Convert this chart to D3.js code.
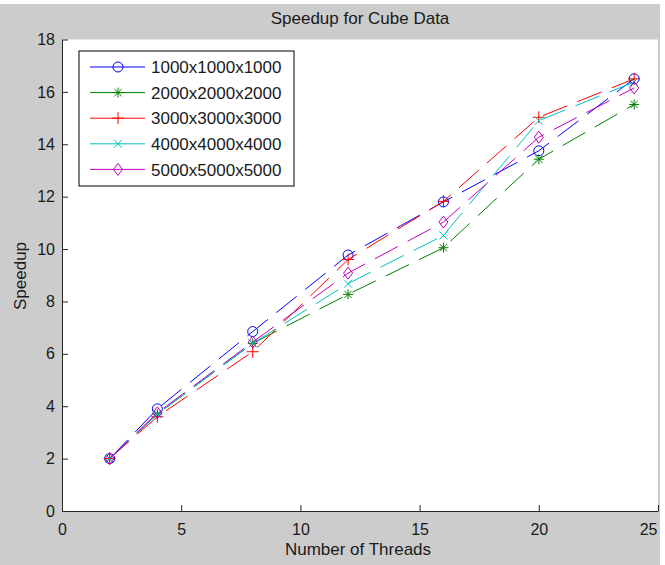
<!DOCTYPE html>
<html>
<head>
<meta charset="utf-8">
<script src="https://cdn.jsdelivr.net/npm/d3@7"></script>
<style>
body { margin: 0; background: #fff; }
text { font-family: "Liberation Sans", Arial, sans-serif; fill: #1a1a1a; }
.axis path, .axis line { stroke: #262626; stroke-width: 1; }
.axis text { font-size: 16px; }
</style>
</head>
<body>
<svg id="chart" width="665" height="565"></svg>
<script>
// data
var threads = [2, 4, 8, 12, 16, 20, 24];
var seriesNames = ["1000x1000x1000", "2000x2000x2000", "3000x3000x3000", "4000x4000x4000", "5000x5000x5000"];
var speedup1000 = [2.0, 3.9, 6.85, 9.77, 11.8, 13.75, 16.5];
var speedup2000 = [2.0, 3.7, 6.4, 8.27, 10.05, 13.43, 15.52];
var speedup3000 = [2.0, 3.6, 6.08, 9.6, 11.82, 15.03, 16.5];
var speedup4000 = [2.0, 3.7, 6.4, 8.68, 10.52, 14.9, 16.38];
var speedup5000 = [2.0, 3.75, 6.45, 9.08, 11.03, 14.27, 16.15];
var xTicks = [0, 5, 10, 15, 20, 25];
var yTicks = [0, 2, 4, 6, 8, 10, 12, 14, 16, 18];

var allSeries = [speedup1000, speedup2000, speedup3000, speedup4000, speedup5000];

// matlab-ish styles
var colors = ["#0000ff", "#008000", "#ff0000", "#00bfbf", "#bf00bf"];
var markers = ["circle", "star", "plus", "x", "diamond"];

var svg = d3.select("#chart");

// figure background
svg.append("rect")
	.attr("x", 0).attr("y", 4)
	.attr("width", 660).attr("height", 561)
	.attr("fill", "#cccccc");

var plot = { left: 62, right: 658, top: 39.5, bottom: 511 };

svg.append("rect")
	.attr("x", plot.left).attr("y", plot.top)
	.attr("width", plot.right - plot.left)
	.attr("height", plot.bottom - plot.top)
	.attr("fill", "#fff");

var x = d3.scaleLinear().domain([0, 25]).range([plot.left, plot.right]);
var y = d3.scaleLinear().domain([0, 18]).range([plot.bottom, plot.top]);

// axes, ticks pointing inward
svg.append("g")
	.attr("class", "axis")
	.attr("transform", "translate(0," + plot.bottom + ")")
	.call(d3.axisBottom(x).tickValues(xTicks).tickSizeInner(-6).tickSizeOuter(0).tickPadding(10))
	.call(g => g.selectAll("text").attr("dy", "0.9em"))
	// last label is kept inside the figure like matlab does
	.call(g => g.selectAll(".tick:last-of-type text").attr("text-anchor", "end").attr("x", -1));

svg.append("g")
	.attr("class", "axis")
	.attr("transform", "translate(" + plot.left + ",0)")
	.call(d3.axisLeft(y).tickValues(yTicks).tickSizeInner(-6).tickSizeOuter(0).tickPadding(7));

svg.selectAll(".axis .domain").attr("stroke", "#262626");
svg.selectAll(".axis text").attr("fill", "#1a1a1a");

// titles
svg.append("text")
	.attr("x", 360).attr("y", 24)
	.attr("text-anchor", "middle")
	.style("font-size", "17px")
	.text("Speedup for Cube Data");

svg.append("text")
	.attr("x", 358).attr("y", 555)
	.attr("text-anchor", "middle")
	.style("font-size", "17px")
	.text("Number of Threads");

svg.append("text")
	.attr("transform", "translate(26,276) rotate(-90)")
	.attr("text-anchor", "middle")
	.style("font-size", "17px")
	.text("Speedup");

// marker drawing
function drawMarker(g, type, color) {
	if (type == "circle") {
		g.append("circle").attr("r", 5).attr("fill", "none").attr("stroke", color);
		return;
	}
	var d;
	if (type == "star") d = "M-5,0H5M0,-5V5M-3.6,-3.6L3.6,3.6M-3.6,3.6L3.6,-3.6";
	if (type == "plus") d = "M-6,0H6M0,-6V6";
	if (type == "x") d = "M-4,-4L4,4M-4,4L4,-4";
	if (type == "diamond") d = "M0,-6L4.5,0L0,6L-4.5,0Z";
	g.append("path").attr("d", d).attr("fill", "none").attr("stroke", color);
}

var line = d3.line()
	.x(function(d, i) { return x(threads[i]); })
	.y(function(d) { return y(d); });

allSeries.forEach(function(vals, s) {
	svg.append("path")
		.datum(vals)
		.attr("d", line)
		.attr("fill", "none")
		.attr("stroke", colors[s])
		.attr("stroke-width", 1)
		.attr("stroke-dasharray", "26,11");

	svg.selectAll(".m" + s)
		.data(vals)
		.enter().append("g")
		.attr("class", "m" + s)
		.attr("transform", function(d, i) { return "translate(" + x(threads[i]) + "," + y(d) + ")"; })
		.each(function() { drawMarker(d3.select(this), markers[s], colors[s]); });
});

// legend
var legend = svg.append("g").attr("transform", "translate(79,51)");
legend.append("rect")
	.attr("width", 215).attr("height", 135)
	.attr("fill", "#fff")
	.attr("stroke", "#000");

seriesNames.forEach(function(name, s) {
	var row = legend.append("g").attr("transform", "translate(0," + (16 + s * 25.6) + ")");
	row.append("line")
		.attr("x1", 11).attr("x2", 66)
		.attr("stroke", colors[s]);
	drawMarker(row.append("g").attr("transform", "translate(39,0)"), markers[s], colors[s]);
	row.append("text")
		.attr("x", 72).attr("dy", "0.36em")
		.style("font-size", "17px")
		.text(name);
});
</script>
</body>
</html>
